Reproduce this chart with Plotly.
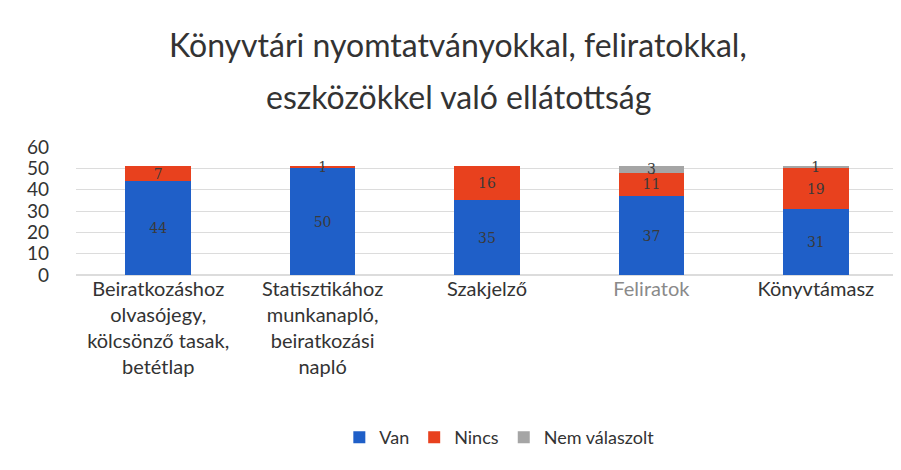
import plotly.graph_objects as go

categories = [
    "Beiratkozáshoz<br>olvasójegy,<br>kölcsönző tasak,<br>betétlap",
    "Statisztikához<br>munkanapló,<br>beiratkozási<br>napló",
    "Szakjelző",
    "<span style='color:#8a8a8a'>Feliratok</span>",
    "Könyvtámasz",
]
van = [44, 50, 35, 37, 31]
nincs = [7, 1, 16, 11, 19]
nem_valaszolt = [0, 0, 0, 3, 1]

title_lines = ["Könyvtári nyomtatványokkal, feliratokkal,", "eszközökkel való ellátottság"]

FONT = "Lato, 'Open Sans', sans-serif"
TEXT_COL = "#333333"

fig = go.Figure()
series = [
    ("Van", van, "#1F5FC8"),
    ("Nincs", nincs, "#E8411E"),
    ("Nem válaszolt", nem_valaszolt, "#A5A5A5"),
]
for name, vals, color in series:
    fig.add_trace(go.Bar(
        x=categories, y=vals, name=name,
        marker=dict(color=color, line=dict(width=0)),
        text=[str(v) if v else "" for v in vals],
        textposition="inside", insidetextanchor="middle", textangle=0,
        textfont=dict(family="'DejaVu Serif', serif", size=14, color="#3a3a3a"),
        width=0.4,
    ))

for i, line in enumerate(title_lines):
    fig.add_annotation(
        text=line, xref="paper", yref="paper",
        x=0.465, y=[1.797, 1.398][i], xanchor="center", yanchor="middle",
        showarrow=False, font=dict(family=FONT, size=32, color=TEXT_COL),
    )

fig.update_layout(
    width=901, height=470,
    barmode="stack",
    paper_bgcolor="white", plot_bgcolor="white",
    margin=dict(l=68, r=11, t=139, b=203),
    font=dict(family=FONT, color=TEXT_COL),
    uniformtext=dict(minsize=14, mode="show"),
    xaxis=dict(tickfont=dict(size=20, color=TEXT_COL), showline=False, ticks=""),
    yaxis=dict(range=[0, 60], dtick=10, showgrid=True, gridcolor="#dcdcdc",
               zeroline=True, zerolinecolor="#dcdcdc", ticklabelstandoff=26,
               tickfont=dict(size=19, color=TEXT_COL)),
    legend=dict(orientation="h", x=0.515, xanchor="center", y=-1.27, yanchor="middle",
                font=dict(size=18, color=TEXT_COL), traceorder="normal",
                itemwidth=30),
    showlegend=True,
)

fig.write_html("out.html")
